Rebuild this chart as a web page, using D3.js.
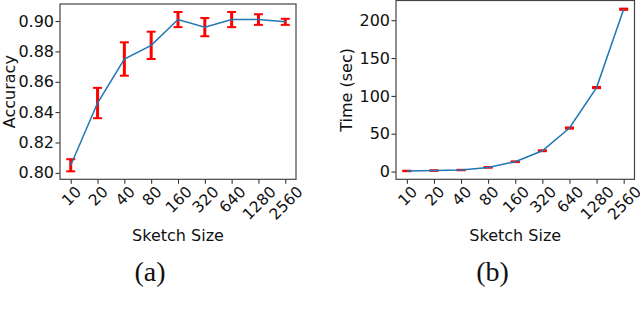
<!DOCTYPE html>
<html>
<head>
<meta charset="utf-8">
<script src="https://cdn.jsdelivr.net/npm/d3@7"></script>
<style>
  body { margin: 0; background: #fff; }
  svg { display: block; }
</style>
</head>
<body>
<div id="chart"></div>
<script>

var sketchSizes = ["10", "20", "40", "80", "160", "320", "640", "1280", "2560"];

// panel (a)
var accuracy = [0.805, 0.846, 0.875, 0.884, 0.901, 0.896, 0.901, 0.901, 0.8995];
var accuracyErr = [0.004, 0.010, 0.011, 0.009, 0.005, 0.006, 0.005, 0.0035, 0.002];
var accuracyTicks = [0.80, 0.82, 0.84, 0.86, 0.88, 0.90];

// panel (b)
var timeSec = [0.8, 1.3, 2.0, 5.5, 13, 27.5, 57.5, 111, 214.5];
var timeErr = [0.3, 0.3, 0.3, 0.4, 0.5, 0.6, 0.8, 0.8, 0.8];
var timeTicks = [0, 50, 100, 150, 200];

var svg = d3.select("#chart").append("svg")
    .attr("width", 640)
    .attr("height", 319);

drawPanel({
  left: 60, right: 296, top: 4, bottom: 179.3,
  values: accuracy, errs: accuracyErr, ticks: accuracyTicks,
  tickFormat: d3.format(".2f"),
  yLabel: "Accuracy", yLabelX: 15,
  caption: "(a)", captionX: 150
});

drawPanel({
  left: 396, right: 634.5, top: 0.5, bottom: 179.3,
  values: timeSec, errs: timeErr, ticks: timeTicks,
  tickFormat: d3.format("d"),
  yLabel: "Time (sec)", yLabelX: 352,
  caption: "(b)", captionX: 492.5
});

function drawPanel(p) {
  var n = sketchSizes.length;
  var xFont = 15.5;

  // matplotlib style 5% margins
  var x = d3.scaleLinear()
      .domain([-0.05 * (n - 1), (n - 1) * 1.05])
      .range([p.left, p.right]);

  var lo = d3.min(p.values, function(d, i) { return d - p.errs[i]; });
  var hi = d3.max(p.values, function(d, i) { return d + p.errs[i]; });
  var pad = (hi - lo) * 0.05;
  var y = d3.scaleLinear()
      .domain([lo - pad, hi + pad])
      .range([p.bottom, p.top]);

  var g = svg.append("g");

  // y axis
  var yAxis = g.append("g")
      .attr("transform", "translate(" + p.left + ",0)")
      .call(d3.axisLeft(y).tickValues(p.ticks).tickFormat(p.tickFormat).tickSize(4.5).tickPadding(1.5));
  yAxis.select(".domain").remove();
  yAxis.selectAll(".tick line").attr("stroke", "#222").attr("stroke-width", 1);
  yAxis.selectAll(".tick text")
      .attr("fill", "#111")
      .style("font-family", "DejaVu Sans")
      .style("font-size", "16px");

  // x axis, labels turned 45 degrees and centred under the tick
  var xAxis = g.append("g")
      .attr("transform", "translate(0," + p.bottom + ")")
      .call(d3.axisBottom(x).tickValues(d3.range(n)).tickFormat(function(i) { return sketchSizes[i]; }).tickSize(4.5));
  xAxis.select(".domain").remove();
  xAxis.selectAll(".tick line").attr("stroke", "#222").attr("stroke-width", 1);
  xAxis.selectAll(".tick text").each(function() {
    var t = d3.select(this)
        .attr("fill", "#111")
        .style("font-family", "DejaVu Sans")
        .style("font-size", xFont + "px")
        .attr("text-anchor", "middle")
        .attr("y", 0)
        .attr("dy", null);
    var w = this.getComputedTextLength();
    var h = 0.73 * xFont;
    var cy = 5.5 + (w + h) / (2 * Math.SQRT2);
    t.attr("transform", "translate(0," + cy + ") rotate(-45)")
        .attr("dy", (h / 2) + "px");
  });

  // frame
  g.append("rect")
      .attr("x", p.left)
      .attr("y", p.top)
      .attr("width", p.right - p.left)
      .attr("height", p.bottom - p.top)
      .attr("fill", "none")
      .attr("stroke", "#444")
      .attr("stroke-width", 1.2);

  // error bars
  var eb = g.append("g").selectAll("g")
      .data(p.values)
    .enter().append("g")
      .attr("stroke", "#ff0000");

  eb.append("line")
      .attr("x1", function(d, i) { return x(i); })
      .attr("x2", function(d, i) { return x(i); })
      .attr("y1", function(d, i) { return y(d - p.errs[i]); })
      .attr("y2", function(d, i) { return y(d + p.errs[i]); })
      .attr("stroke-width", 3);

  [-1, 1].forEach(function(s) {
    eb.append("line")
        .attr("x1", function(d, i) { return x(i) - 4.5; })
        .attr("x2", function(d, i) { return x(i) + 4.5; })
        .attr("y1", function(d, i) { return y(d + s * p.errs[i]); })
        .attr("y2", function(d, i) { return y(d + s * p.errs[i]); })
        .attr("stroke-width", 2);
  });

  // data line
  var line = d3.line()
      .x(function(d, i) { return x(i); })
      .y(function(d) { return y(d); });

  g.append("path")
      .datum(p.values)
      .attr("d", line)
      .attr("fill", "none")
      .attr("stroke", "#1f77b4")
      .attr("stroke-width", 1.5);

  // labels
  g.append("text")
      .attr("transform", "translate(" + p.yLabelX + "," + ((p.top + p.bottom) / 2) + ") rotate(-90)")
      .attr("text-anchor", "middle")
      .attr("fill", "#111")
      .style("font-family", "DejaVu Sans")
      .style("font-size", "16px")
      .text(p.yLabel);

  g.append("text")
      .attr("x", (p.left + p.right) / 2)
      .attr("y", 240.5)
      .attr("text-anchor", "middle")
      .attr("fill", "#111")
      .style("font-family", "DejaVu Sans")
      .style("font-size", "16px")
      .text("Sketch Size");

  g.append("text")
      .attr("x", p.captionX)
      .attr("y", 281)
      .attr("text-anchor", "middle")
      .attr("fill", "#111")
      .style("font-family", "Liberation Serif")
      .style("font-size", "28px")
      .text(p.caption);
}
</script>
</body>
</html>
